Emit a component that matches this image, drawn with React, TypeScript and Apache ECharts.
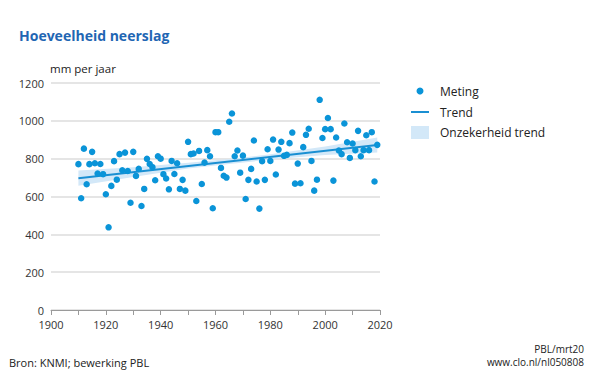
import React, { useEffect, useRef } from "react";
import * as echarts from "echarts";

const startYear = 1910;
const rainfall: number[] = [
  771, 591, 853, 665, 771, 836, 776, 721, 772, 718,
  612, 437, 656, 787, 689, 824, 739, 832, 735, 567,
  836, 709, 746, 550, 640, 799, 772, 755, 686, 813,
  800, 718, 695, 638, 788, 719, 776, 640, 688, 631,
  889, 824, 827, 576, 841, 666, 779, 845, 813, 538,
  940, 940, 751, 710, 700, 995, 1039, 813, 843, 726,
  816, 587, 688, 746, 896, 679, 536, 787, 688, 850,
  788, 901, 716, 848, 889, 815, 820, 882, 938, 668,
  774, 670, 861, 926, 958, 788, 631, 689, 1111, 909,
  956, 1015, 956, 684, 912, 843, 824, 986, 887, 804,
  880, 845, 947, 813, 845, 924, 845, 940, 679, 873,
];
const years: number[] = rainfall.map((_, i) => startYear + i);

const trendYears = [1910, 2019];
const trendValues = [697, 872];

const bandYears = [1910, 1930, 1950, 1965, 1980, 2000, 2019];
const bandLower = [657, 703, 748, 772, 795, 820, 832];
const bandUpper = [737, 755, 778, 798, 823, 864, 912];

const xTicks = [1900, 1920, 1940, 1960, 1980, 2000, 2020];
const yTicks = [0, 200, 400, 600, 800, 1000, 1200];

const FONT = "'Open Sans', 'Noto Sans', sans-serif";
const BLUE = "#0a94d8";

export default function App() {
  const ref = useRef<HTMLDivElement>(null);
  useEffect(() => {
    if (!ref.current) return;
    const chart = echarts.init(ref.current, undefined, { renderer: "svg" });
    const bandPoly: number[][] = [];
    bandYears.forEach((y, i) => bandPoly.push([y, bandUpper[i]]));
    for (let i = bandYears.length - 1; i >= 0; i--) bandPoly.push([bandYears[i], bandLower[i]]);

    chart.setOption({
      animation: false,
      textStyle: { fontFamily: FONT },
      grid: { left: 51, right: 225, top: 83, bottom: 63 },
      xAxis: {
        type: "value",
        min: xTicks[0],
        max: xTicks[xTicks.length - 1],
        interval: 10,
        splitLine: { show: false },
        axisLine: { lineStyle: { color: "#9a9a9a", width: 1 } },
        axisTick: { show: true, length: 5, lineStyle: { color: "#9a9a9a" } },
        axisLabel: {
          color: "#333",
          fontSize: 11,
          fontFamily: FONT,
          margin: 9,
          formatter: (v: number) => (xTicks.includes(v) ? String(v) : ""),
        },
      },
      yAxis: {
        type: "value",
        min: yTicks[0],
        max: yTicks[yTicks.length - 1],
        interval: 200,
        axisLine: { show: false },
        axisTick: { show: false },
        splitLine: { lineStyle: { color: "#dcdcdc", width: 1.5 } },
        axisLabel: {
          color: "#333",
          fontSize: 11,
          fontFamily: FONT,
          margin: 7,
          formatter: (v: number) => String(v),
        },
      },
      series: [
        {
          type: "custom",
          z: 1,
          silent: true,
          data: [[1965, 800]],
          renderItem: (params: any, api: any) => {
            const pts = bandPoly.map((p) => api.coord(p));
            return {
              type: "polygon",
              shape: { points: pts },
              style: { fill: "#d3e8f8", stroke: "none" },
            };
          },
        },
        {
          type: "line",
          z: 2,
          data: trendYears.map((y, i) => [y, trendValues[i]]),
          symbol: "none",
          lineStyle: { color: "#1a8fd2", width: 2 },
        },
        {
          type: "scatter",
          z: 3,
          data: years.map((y, i) => [y, rainfall[i]]),
          symbolSize: 6.5,
          itemStyle: { color: BLUE, opacity: 1 },
        },
      ],
      graphic: [
        {
          type: "text",
          left: 19,
          top: 28,
          style: { text: "Hoeveelheid neerslag", fill: "#1f66b3", fontSize: 14, fontWeight: "bold", fontFamily: FONT },
        },
        {
          type: "text",
          left: 50,
          top: 62,
          style: { text: "mm per jaar", fill: "#222", fontSize: 11.5, fontFamily: FONT },
        },
        { type: "circle", shape: { cx: 420, cy: 91, r: 3.5 }, style: { fill: BLUE } },
        {
          type: "text",
          x: 440,
          y: 91,
          style: { text: "Meting", fill: "#222", fontSize: 12, fontFamily: FONT, verticalAlign: "middle" },
        },
        {
          type: "line",
          shape: { x1: 411, y1: 112, x2: 429, y2: 112 },
          style: { stroke: "#1a8fd2", lineWidth: 2 },
        },
        {
          type: "text",
          x: 440,
          y: 112,
          style: { text: "Trend", fill: "#222", fontSize: 12, fontFamily: FONT, verticalAlign: "middle" },
        },
        { type: "rect", shape: { x: 411, y: 126, width: 18, height: 13 }, style: { fill: "#d3e8f8" } },
        {
          type: "text",
          x: 440,
          y: 132,
          style: { text: "Onzekerheid trend", fill: "#222", fontSize: 12, fontFamily: FONT, verticalAlign: "middle" },
        },
        {
          type: "text",
          x: 9,
          y: 362,
          style: { text: "Bron: KNMI; bewerking PBL", fill: "#222", fontSize: 11, fontFamily: FONT, verticalAlign: "middle" },
        },
        {
          type: "text",
          x: 584,
          y: 349,
          style: { text: "PBL/mrt20", fill: "#222", fontSize: 10, fontFamily: FONT, align: "right", verticalAlign: "middle" },
        },
        {
          type: "text",
          x: 584,
          y: 362,
          style: { text: "www.clo.nl/nl050808", fill: "#222", fontSize: 10, fontFamily: FONT, align: "right", verticalAlign: "middle" },
        },
      ],
    });
    return () => chart.dispose();
  }, []);
  return <div ref={ref} style={{ position: "absolute", left: 0, top: 0, width: 605, height: 373 }} />;
}
